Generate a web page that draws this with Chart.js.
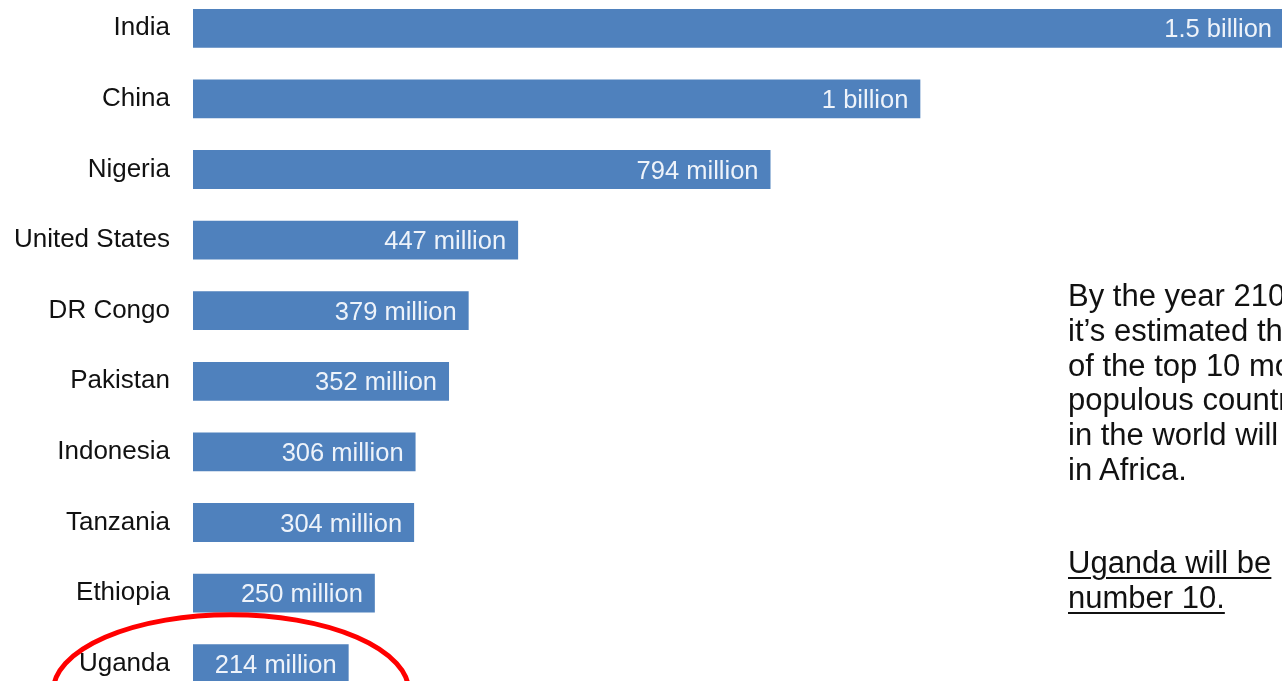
<!DOCTYPE html>
<html>
<head>
<meta charset="utf-8">
<script src="https://cdn.jsdelivr.net/npm/chart.js@4/dist/chart.umd.min.js"></script>
<style>
  html, body { margin: 0; padding: 0; width: 1282px; height: 681px; overflow: hidden; background: #fff; }
  #wrap { position: absolute; left: 0; top: -7px; width: 1284px; height: 706px; }
  #note { position: absolute; left: 1068px; top: 279px; font-family: "Liberation Sans", Arial, sans-serif;
          font-size: 31px; line-height: 34.8px; color: #111; white-space: nowrap; }
  #note p { margin: 0; }
  #note p.u { text-decoration: underline; text-decoration-thickness: 2px; text-underline-offset: 4px; margin-top: 58px; }
</style>
</head>
<body>
<div id="wrap"><canvas id="c" width="1284" height="706"></canvas></div>
<div id="note">
  <p>By the year 2100,<br>it’s estimated that 5<br>of the top 10 most<br>populous countries<br>in the world will be<br>in Africa.</p>
  <p class="u">Uganda will be<br>number 10.</p>
</div>
<script>
const countries = ["India", "China", "Nigeria", "United States", "DR Congo", "Pakistan", "Indonesia", "Tanzania", "Ethiopia", "Uganda"];
const population2100 = [1500, 1000, 794, 447, 379, 352, 306, 304, 250, 214]; // millions
const valueLabels = ["1.5 billion", "1 billion", "794 million", "447 million", "379 million", "352 million", "306 million", "304 million", "250 million", "214 million"];
const highlighted = "Uganda";

const barLabelPlugin = {
  id: 'barLabels',
  afterDatasetsDraw(chart) {
    const ctx = chart.ctx;
    const meta = chart.getDatasetMeta(0);
    ctx.save();
    ctx.font = '25.5px "Liberation Sans", Arial, sans-serif';
    ctx.fillStyle = '#eef3fa';
    ctx.textAlign = 'right';
    ctx.textBaseline = 'middle';
    meta.data.forEach((bar, i) => {
      ctx.fillText(valueLabels[i], bar.x - 12, bar.y + 2);
    });
    ctx.restore();
  }
};

const ellipsePlugin = {
  id: 'highlightEllipse',
  afterDraw(chart) {
    const idx = countries.indexOf(highlighted);
    const yScale = chart.scales.y;
    const cy = yScale.getPixelForValue(idx) + 28;
    const cx = 231;
    const ctx = chart.ctx;
    ctx.save();
    ctx.beginPath();
    ctx.ellipse(cx, cy, 178, 77, 0, 0, Math.PI * 2);
    ctx.lineWidth = 5;
    ctx.strokeStyle = '#f00';
    ctx.stroke();
    ctx.restore();
  }
};

new Chart(document.getElementById('c'), {
  type: 'bar',
  data: {
    labels: countries,
    datasets: [{
      data: population2100,
      backgroundColor: '#4f81bd',
      borderWidth: 0,
      categoryPercentage: 1,
      barPercentage: 0.55
    }]
  },
  options: {
    indexAxis: 'y',
    responsive: false,
    animation: false,
    devicePixelRatio: 1,
    layout: { padding: 0 },
    plugins: { legend: { display: false }, tooltip: { enabled: false } },
    scales: {
      x: { display: false, min: 0, max: 1500 },
      y: {
        grid: { display: false, drawTicks: false },
        border: { display: false },
        ticks: {
          padding: 23,
          color: '#111',
          font: { family: '"Liberation Sans", Arial, sans-serif', size: 26 }
        },
        afterFit(axis) { axis.width = 193; axis.paddingTop = 0; axis.paddingBottom = 0; }
      }
    }
  },
  plugins: [barLabelPlugin, ellipsePlugin]
});
</script>
</body>
</html>
